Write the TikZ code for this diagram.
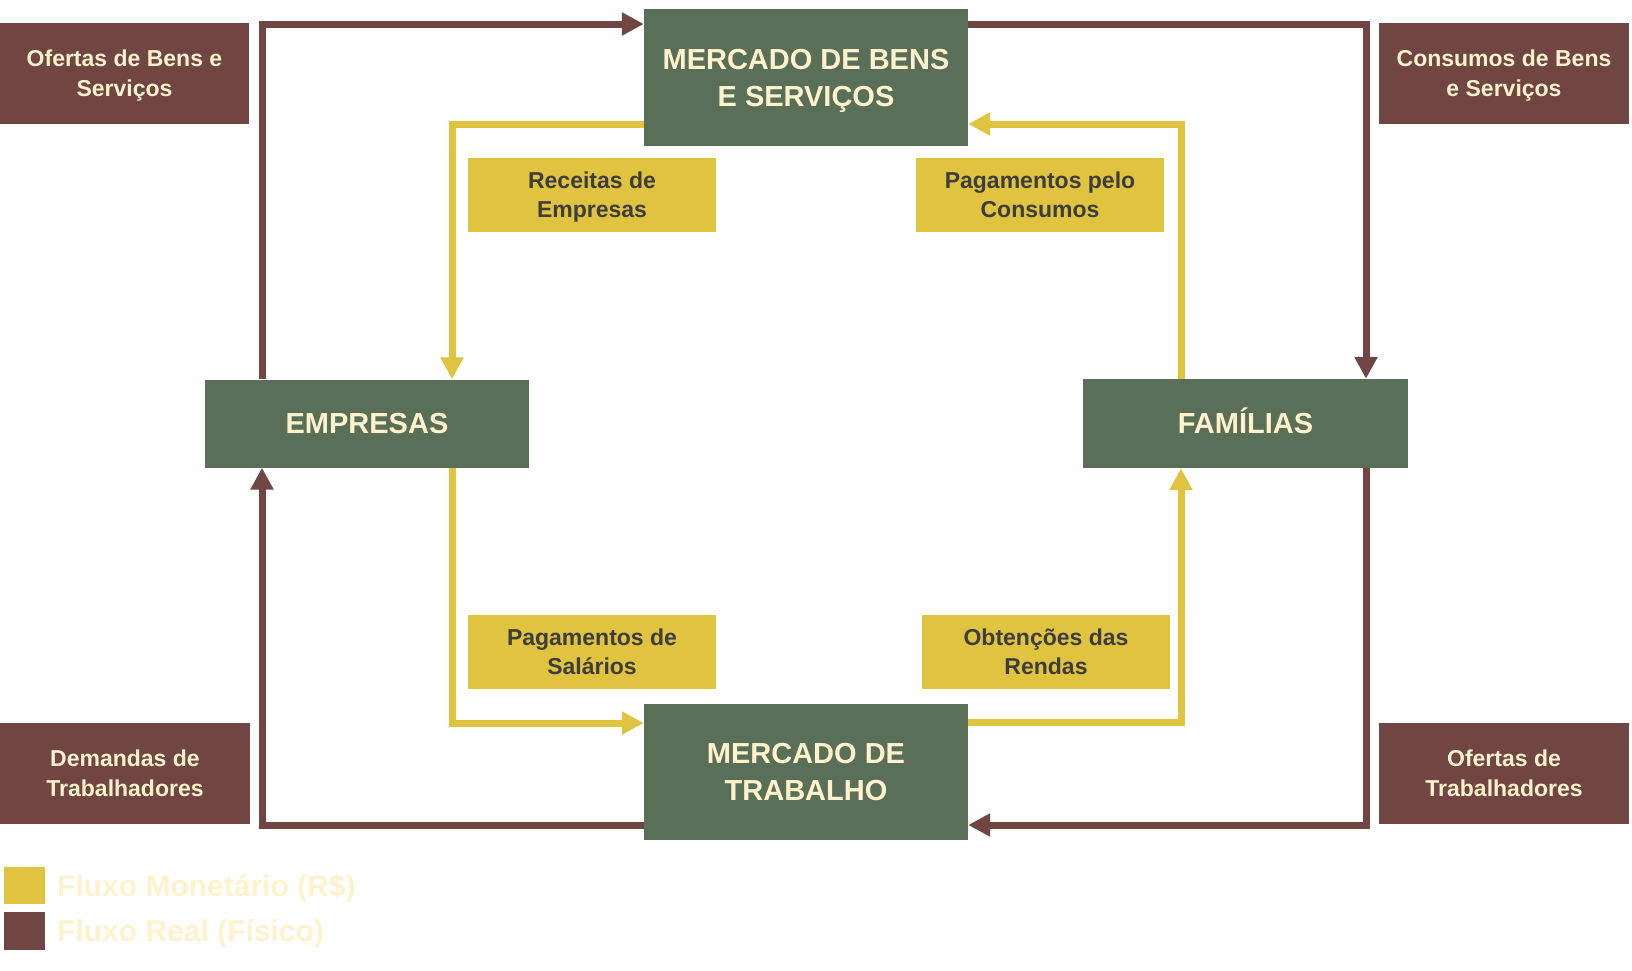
\documentclass[tikz,border=0pt]{standalone}
\usepackage{fontspec}
\setmainfont{Liberation Sans}
\usetikzlibrary{arrows.meta}
\definecolor{boxgreen}{HTML}{596F58}
\definecolor{flowbrown}{HTML}{714541}
\definecolor{flowyellow}{HTML}{E0C33F}
\definecolor{creamtxt}{HTML}{FFF2CC}
\definecolor{darktxt}{HTML}{3D3D3D}
% struts centred on the cap height, so each line is centred visually
\newcommand\mystrutM{\rule[-8.1pt]{0pt}{37pt}}
\newcommand\mystrutL{\rule[-6.55pt]{0pt}{29.5pt}}
\tikzset{
  mainbox/.style={fill=boxgreen, text=creamtxt, inner sep=0pt, align=center,
    minimum width=324pt, font=\fontsize{29}{37}\selectfont\bfseries},
  brownlabel/.style={fill=flowbrown, text=creamtxt, inner sep=0pt, align=center,
    minimum width=250pt, minimum height=101pt, font=\fontsize{23}{29.5}\selectfont\bfseries},
  yellowlabel/.style={fill=flowyellow, text=darktxt, inner sep=0pt, align=center,
    minimum width=248pt, minimum height=74pt, font=\fontsize{23}{29.5}\selectfont\bfseries},
  brownflow/.style={draw=flowbrown, line width=7pt, line join=miter, -{Triangle[length=22pt,width=22pt]}},
  yellowflow/.style={draw=flowyellow, line width=7pt, line join=miter, -{Triangle[length=22pt,width=22pt]}},
  legendtxt/.style={text=creamtxt, anchor=base west, inner sep=0pt, font=\fontsize{30}{36}\selectfont\bfseries},
}
\begin{document}
\begin{tikzpicture}[x=1pt,y=-1pt]
\useasboundingbox (0,0) rectangle (1632,970);
% main boxes
\node[mainbox, minimum height=137pt] (mbs) at (806,77.5) {MERCADO DE BENS\mystrutM\\E SERVIÇOS\mystrutM};
\node[mainbox, minimum height=88pt] (emp) at (367,423.5) {EMPRESAS\mystrutM};
\node[mainbox, minimum height=89pt, minimum width=325pt] (fam) at (1245.5,423.5) {FAMÍLIAS\mystrutM};
\node[mainbox, minimum height=136pt] (mt) at (806,772) {MERCADO DE\mystrutM\\TRABALHO\mystrutM};
% brown labels
\node[brownlabel, minimum width=249pt] (lOBS) at (124.5,73.5) {Ofertas de Bens e\mystrutL\\Serviços\mystrutL};
\node[brownlabel] (lCBS) at (1504,73.5) {Consumos de Bens\mystrutL\\e Serviços\mystrutL};
\node[brownlabel] (lDT) at (125,773.5) {Demandas de\mystrutL\\Trabalhadores\mystrutL};
\node[brownlabel] (lOT) at (1504,773.5) {Ofertas de\mystrutL\\Trabalhadores\mystrutL};
% yellow labels
\node[yellowlabel] (lRE) at (592,195) {Receitas de\mystrutL\\Empresas\mystrutL};
\node[yellowlabel] (lPC) at (1040,195) {Pagamentos pelo\mystrutL\\Consumos\mystrutL};
\node[yellowlabel] (lPS) at (592,652) {Pagamentos de\mystrutL\\Salários\mystrutL};
\node[yellowlabel] (lOR) at (1046,652) {Obtenções das\mystrutL\\Rendas\mystrutL};
% corners
\coordinate (bTL) at (262,24);
\coordinate (bTR) at (1366,24);
\coordinate (bBR) at (1366,825);
\coordinate (bBL) at (262,825);
\coordinate (yTL) at (452,124);
\coordinate (yTR) at (1181,124);
\coordinate (yBL) at (452,723);
\coordinate (yBR) at (1181,722);
% brown flows
\draw[brownflow] (emp.north -| bTL) -- (bTL) -- (mbs.west |- bTL);
\draw[brownflow] (mbs.east |- bTR) -- (bTR) -- (fam.north -| bTR);
\draw[brownflow] (fam.south -| bBR) -- (bBR) -- (mt.east |- bBR);
\draw[brownflow] (mt.west |- bBL) -- (bBL) -- (emp.south -| bBL);
% yellow flows
\draw[yellowflow] (mbs.west |- yTL) -- (yTL) -- (emp.north -| yTL);
\draw[yellowflow] (fam.north -| yTR) -- (yTR) -- (mbs.east |- yTR);
\draw[yellowflow] (emp.south -| yBL) -- (yBL) -- (mt.west |- yBL);
\draw[yellowflow] (mt.east |- yBR) -- (yBR) -- (fam.south -| yBR);
% legend
\node[fill=flowyellow, minimum width=41pt, minimum height=37pt, inner sep=0pt] (legY) at (24.5,885.5) {};
\node[fill=flowbrown, minimum width=41pt, minimum height=38pt, inner sep=0pt] (legB) at (24.5,931) {};
\node[legendtxt] (legYt) at (57,896) {Fluxo Monetário (R\$)};
\node[legendtxt] (legBt) at (57,941) {Fluxo Real (Físico)};
\end{tikzpicture}
\end{document}
